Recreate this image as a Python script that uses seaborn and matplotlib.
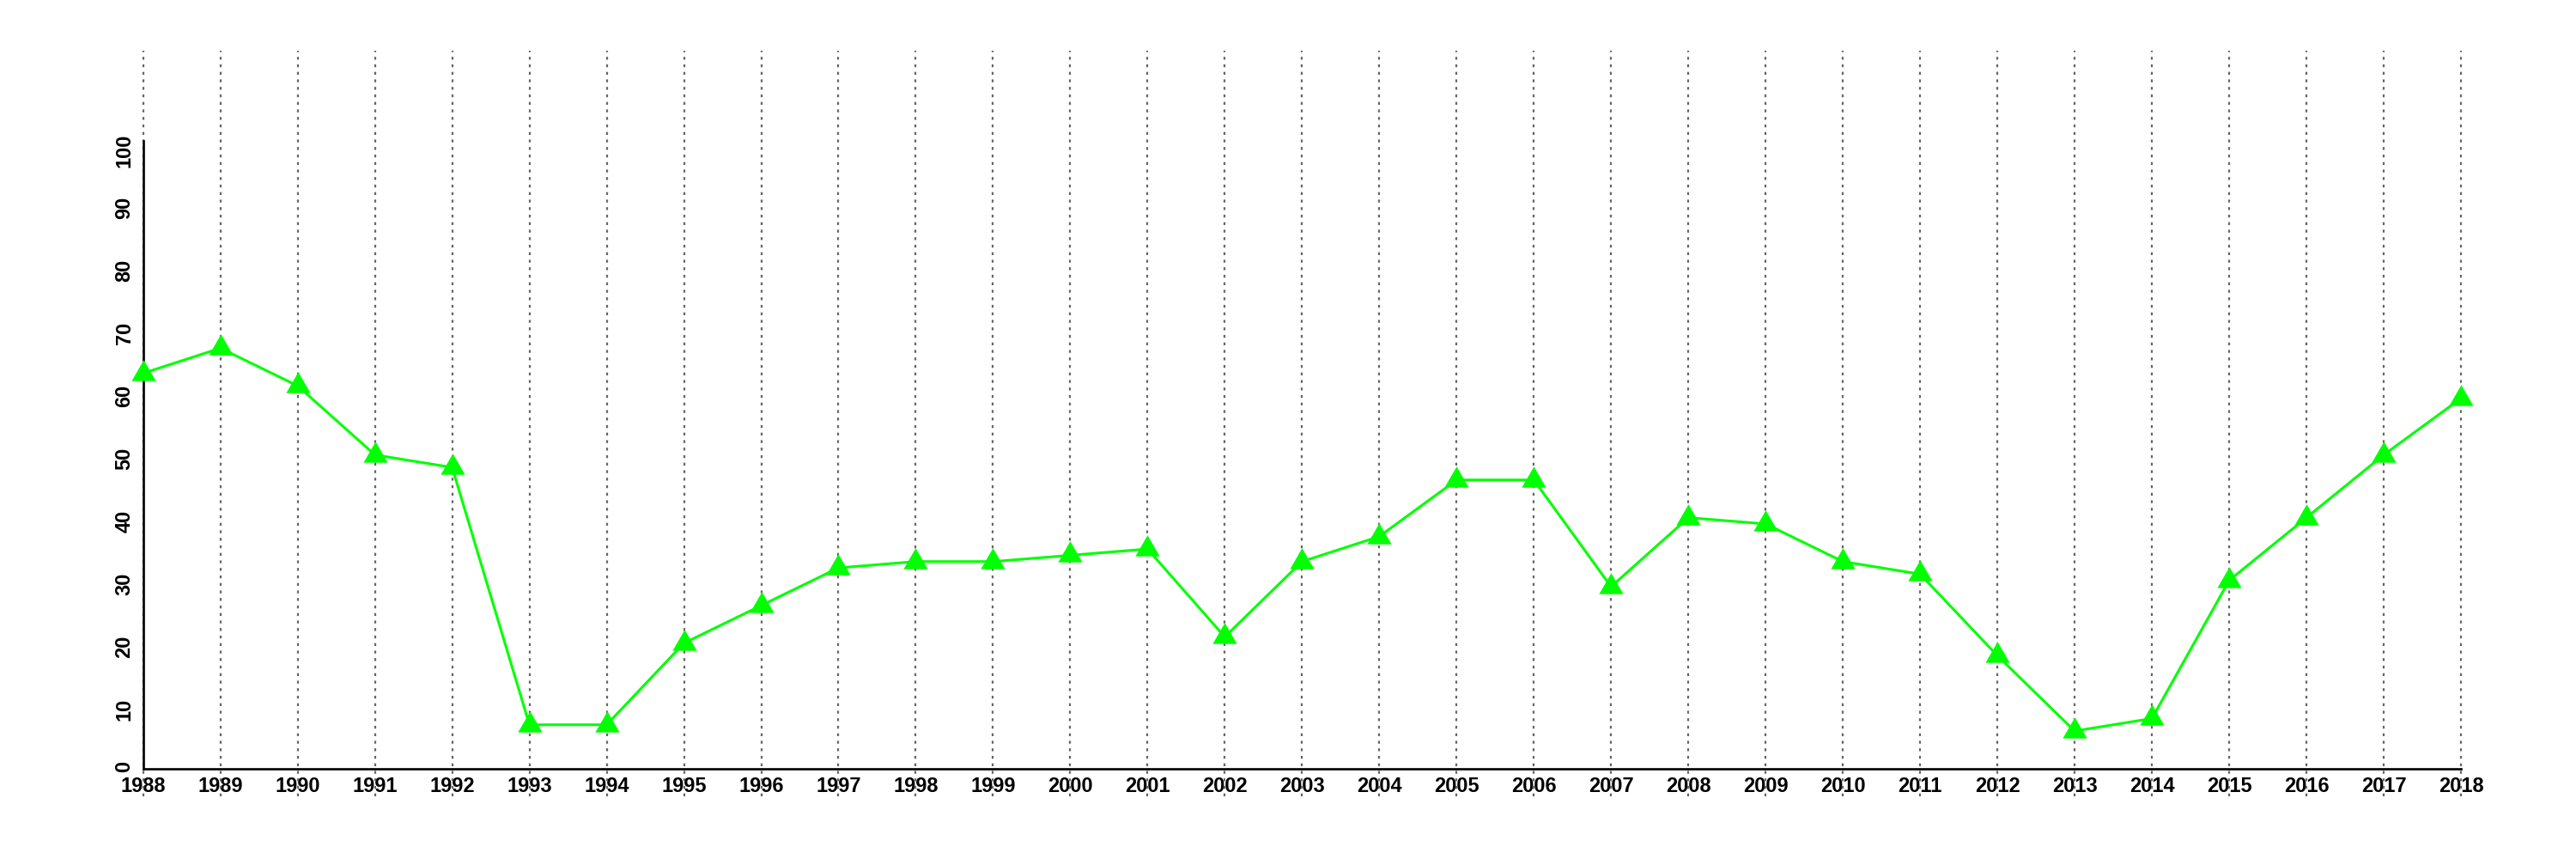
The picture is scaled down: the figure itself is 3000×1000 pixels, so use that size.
import matplotlib
matplotlib.use("Agg")
import matplotlib.pyplot as plt
import seaborn as sns
import pandas as pd

years = list(range(1988, 2019))
values = [63, 67, 61, 50, 48, 7, 7, 20, 26, 32, 33, 33, 34, 35, 21, 33, 37,
          46, 46, 29, 40, 39, 33, 31, 18, 6, 8, 30, 40, 50, 59]
y_ticks = [0, 10, 20, 30, 40, 50, 60, 70, 80, 90, 100]

sns.set_style("white")
plt.rcParams["font.family"] = ["Liberation Sans", "DejaVu Sans"]
plt.rcParams["font.weight"] = "bold"
plt.rcParams["lines.scale_dashes"] = False

df = pd.DataFrame({"year": years, "value": values})

W, H = 3000, 1000
fig = plt.figure(figsize=(30, 10), dpi=100)
x0, x1, ytop, ybot = 58.7, 2974.0, 59.0, 927.0
ax = fig.add_axes([x0 / W, 1 - ybot / H, (x1 - x0) / W, (ybot - ytop) / H])

xmin, xmax = 1988 - 0.04 * 30, 2018 + 0.04 * 30
ymin, ymax = -0.04 * 110, 110 * 1.04
ax.set_xlim(xmin, xmax)
ax.set_ylim(ymin, ymax)

ax.vlines(years, ymin, ymax, colors="#666666", linewidth=1.6,
          linestyles=[(0, (2.4, 3.9))], zorder=1)

sns.lineplot(data=df, x="year", y="value", ax=ax, color="#00FF00",
             linewidth=2.2, marker=(3, 0, 0), markersize=23.5,
             markeredgewidth=0, markerfacecolor="#00FF00", zorder=3)

for s in ["top", "right"]:
    ax.spines[s].set_visible(False)
ax.spines["left"].set_position(("data", 1988))
ax.spines["left"].set_bounds(0, 100)
ax.spines["bottom"].set_position(("data", 0))
ax.spines["bottom"].set_bounds(1988, 2018)
for s in ["left", "bottom"]:
    ax.spines[s].set_linewidth(1.9)
    ax.spines[s].set_color("black")

ax.set_xticks(years)
ax.set_xticklabels([str(y) for y in years])
ax.set_yticks(y_ticks)
ax.set_yticklabels([str(v) for v in y_ticks])
ax.tick_params(axis="both", direction="out", length=5.8, width=1.9,
               color="black", labelsize=17, labelcolor="black")
ax.tick_params(axis="x", pad=0.5)
ax.tick_params(axis="y", pad=1.5, labelrotation=90)
for lab in ax.get_xticklabels() + ax.get_yticklabels():
    lab.set_fontweight("bold")
ax.set_xlabel("")
ax.set_ylabel("")
ax.set_facecolor("white")
ax.patch.set_alpha(0)
ax.grid(False)

fig.savefig("out.png", dpi=100, facecolor="white")
